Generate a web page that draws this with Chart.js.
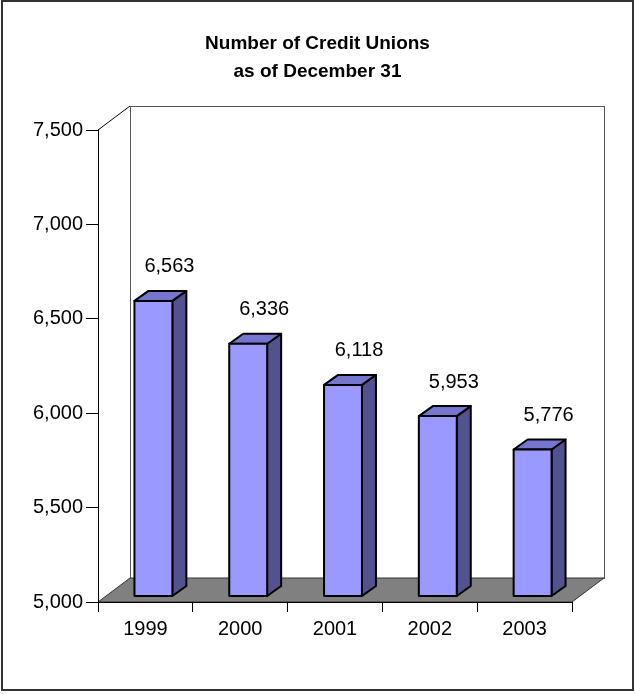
<!DOCTYPE html>
<html>
<head>
<meta charset="utf-8">
<script src="https://cdn.jsdelivr.net/npm/chart.js@4/dist/chart.umd.min.js"></script>
<style>
  html, body { margin: 0; padding: 0; background: #fff; }
  #wrap { width: 635px; height: 694px; position: relative; }
</style>
</head>
<body>
<div id="wrap"><canvas id="cuChart"></canvas></div>
<script>
// --- datos ---
const years = ["1999", "2000", "2001", "2002", "2003"];
const unionCounts = [6563, 6336, 6118, 5953, 5776];
const yTicks = [5000, 5500, 6000, 6500, 7000, 7500];

const FONT = "'Liberation Sans', Arial, sans-serif";

// profundidad del "cubo" 3D y de las barras
const WALL = { dx: 32, dy: -24 };
const BAR_SHIFT = { dx: 8, dy: -6 };
const BAR_DEPTH = { dx: 14, dy: -10 };

const fmt = v => v.toLocaleString("en-US");

// paredes, piso y marco exterior (antes de los ejes)
const walls3d = {
    id: "walls3d",
    beforeDraw(chart) {
        const ctx = chart.ctx;
        const a = chart.chartArea;
        ctx.save();

        // marco exterior
        ctx.strokeStyle = "#333";
        ctx.lineWidth = 2;
        ctx.strokeRect(2, 1, 631, 689);

        // pared del fondo
        ctx.fillStyle = "#fff";
        ctx.strokeStyle = "#555";
        ctx.lineWidth = 1;
        const bx = Math.round(a.left + WALL.dx) + 0.5;
        const by = Math.round(a.top + WALL.dy) + 0.5;
        const bw = Math.round(a.right - a.left);
        const bh = Math.round(a.bottom - a.top);
        ctx.fillRect(bx, by, bw, bh);
        ctx.strokeRect(bx, by, bw, bh);

        // borde superior de la pared izquierda
        ctx.strokeStyle = "#000";
        ctx.beginPath();
        ctx.moveTo(a.left, a.top);
        ctx.lineTo(a.left + WALL.dx, a.top + WALL.dy);
        ctx.stroke();

        // piso gris
        ctx.fillStyle = "#808080";
        ctx.strokeStyle = "#333";
        ctx.beginPath();
        ctx.moveTo(a.left, a.bottom);
        ctx.lineTo(a.right, a.bottom);
        ctx.lineTo(a.right + WALL.dx, a.bottom + WALL.dy);
        ctx.lineTo(a.left + WALL.dx, a.bottom + WALL.dy);
        ctx.closePath();
        ctx.fill();
        ctx.stroke();

        ctx.restore();
    }
};

// barras 3D + etiquetas de valor
const bars3d = {
    id: "bars3d",
    afterDatasetsDraw(chart) {
        const ctx = chart.ctx;
        const yScale = chart.scales.y;
        const meta = chart.getDatasetMeta(0);
        const values = chart.data.datasets[0].data;
        const floorY = yScale.getPixelForValue(yScale.min);
        ctx.save();
        ctx.lineWidth = 2;
        ctx.lineJoin = "round";
        ctx.strokeStyle = "#000";

        meta.data.forEach((bar, i) => {
            const p = bar.getProps(["x", "y", "width"], true);
            const left = p.x - p.width / 2 + BAR_SHIFT.dx;
            const right = p.x + p.width / 2 + BAR_SHIFT.dx;
            const top = p.y + BAR_SHIFT.dy;
            const bottom = floorY + BAR_SHIFT.dy;

            // lateral
            ctx.fillStyle = "#52528e";
            ctx.beginPath();
            ctx.moveTo(right, bottom);
            ctx.lineTo(right + BAR_DEPTH.dx, bottom + BAR_DEPTH.dy);
            ctx.lineTo(right + BAR_DEPTH.dx, top + BAR_DEPTH.dy);
            ctx.lineTo(right, top);
            ctx.closePath();
            ctx.fill();
            ctx.stroke();

            // tapa
            ctx.fillStyle = "#7676cf";
            ctx.beginPath();
            ctx.moveTo(left, top);
            ctx.lineTo(left + BAR_DEPTH.dx, top + BAR_DEPTH.dy);
            ctx.lineTo(right + BAR_DEPTH.dx, top + BAR_DEPTH.dy);
            ctx.lineTo(right, top);
            ctx.closePath();
            ctx.fill();
            ctx.stroke();

            // frente
            ctx.fillStyle = "#9999ff";
            ctx.fillRect(left, top, right - left, bottom - top);
            ctx.strokeRect(left, top, right - left, bottom - top);

            // valor
            ctx.fillStyle = "#000";
            ctx.font = "20px " + FONT;
            ctx.textAlign = "center";
            ctx.textBaseline = "middle";
            ctx.fillText(fmt(values[i]), p.x + 24, p.y - 40);
        });
        ctx.restore();
    }
};

const canvas = document.getElementById("cuChart");
const ctx = canvas.getContext("2d");

new Chart(ctx, {
    type: "bar",
    data: {
        labels: years,
        datasets: [{
            label: "Credit Unions",
            data: unionCounts,
            backgroundColor: "rgba(0,0,0,0)",
            borderWidth: 0,
            categoryPercentage: 1,
            barPercentage: 0.4
        }]
    },
    options: {
        responsive: true,
        maintainAspectRatio: false,
        animation: false,
        layout: { padding: { left: 0, right: 0, top: 0, bottom: 52 } },
        plugins: {
            legend: { display: false },
            tooltip: { enabled: false },
            title: {
                display: true,
                text: ["Number of Credit Unions", "as of December 31"],
                color: "#000",
                font: { family: FONT, size: 19, weight: "bold", lineHeight: 28 / 19 },
                padding: { top: 30, bottom: 44 }
            }
        },
        scales: {
            x: {
                grid: { drawOnChartArea: false, tickLength: 10, color: "#000" },
                border: { color: "#000", width: 1 },
                ticks: { color: "#000", padding: 5, font: { family: FONT, size: 20 } },
                afterFit: scale => { scale.height = 40; }
            },
            y: {
                min: 5000,
                max: 7500,
                grid: { drawOnChartArea: false, tickLength: 12, color: "#000" },
                border: { color: "#000", width: 1 },
                ticks: {
                    color: "#000",
                    padding: 3,
                    font: { family: FONT, size: 20 },
                    callback: v => fmt(v)
                },
                afterBuildTicks: axis => { axis.ticks = yTicks.map(v => ({ value: v })); },
                afterFit: scale => { scale.width = 98; }
            },
            // eje vacío a la derecha: deja sitio para la profundidad del cubo
            yRight: {
                position: "right",
                display: true,
                grid: { display: false },
                border: { display: false },
                ticks: { display: false },
                afterFit: scale => { scale.width = 63; }
            }
        }
    },
    plugins: [walls3d, bars3d]
});
</script>
</body>
</html>
